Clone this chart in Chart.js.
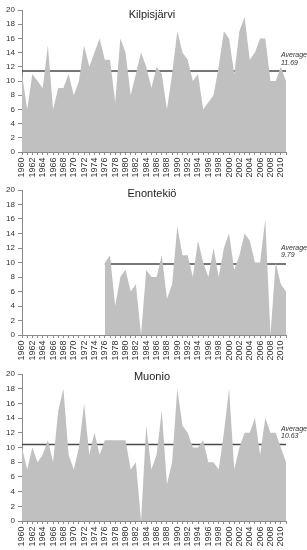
<!DOCTYPE html>
<html><head><meta charset="utf-8">
<script src="https://cdn.jsdelivr.net/npm/chart.js@4"></script>
<style>
html,body{margin:0;padding:0;background:#fff;width:307px;height:550px;overflow:hidden}
.p{position:absolute;left:0;width:307px}
canvas{display:block}
</style></head><body>
<div class="p" style="top:0"><canvas id="c1" width="307" height="182"></canvas></div>
<div class="p" style="top:182px"><canvas id="c2" width="307" height="182"></canvas></div>
<div class="p" style="top:364px"><canvas id="c3" width="307" height="186"></canvas></div>
<script>
const years = ['1960','1961','1962','1963','1964','1965','1966','1967','1968','1969',
  '1970','1971','1972','1973','1974','1975','1976','1977','1978','1979',
  '1980','1981','1982','1983','1984','1985','1986','1987','1988','1989',
  '1990','1991','1992','1993','1994','1995','1996','1997','1998','1999',
  '2000','2001','2002','2003','2004','2005','2006','2007','2008','2009',
  '2010','2011'];
const kilpisjarvi = [11,6,11,10,9,15,6,9,9,11, 8,10,15,12,14,16,13,13,7,16,
  14,8,11,14,12,9,12,11,6,11, 17,14,13,10,11,6,7,8,12,17,
  16,11,17,19,13,14,16,16,10,10, 12,10];
const enontekio = [null,null,null,null,null,null,null,null,null,null,
  null,null,null,null,null,null,10,11,4,8,
  9,6,7,0,9,8,8,11,5,7, 15,11,11,8,13,10,8,12,8,12,
  14,9,11,14,13,10,10,16,0,10, 7,6];
const muonio = [10,7,10,8,9,11,8,15,18,9, 7,10,16,9,12,9,11,11,11,11,
  11,7,8,0,13,7,9,15,5,8, 18,13,12,10,10,11,8,8,7,12,
  18,7,10,12,12,14,9,14,12,12, 10,8];
const titles = ['Kilpisjärvi','Enontekiö','Muonio'];
const averageTexts = ['11.69','9.79','10.63'];
const averageLevels = [11.4, 9.8, 10.4];
const averageFromYear = ['1960','1976','1960'];

const FONT = "'Liberation Sans', Arial, sans-serif";

function makeChart(id, values, idx, cfg){
  const startI = years.indexOf(averageFromYear[idx]);
  const avgData = years.map((y,i)=> i>=startI ? averageLevels[idx] : null);
  const labelsPlugin = {
    id:'lbl'+idx,
    afterDraw(chart){
      const {ctx, scales} = chart;
      ctx.save();
      ctx.fillStyle = '#222';
      ctx.font = "11px " + FONT;
      ctx.textAlign = 'center';
      ctx.textBaseline = 'middle';
      ctx.fillText(titles[idx], 152, cfg.titleY);
      const ly = scales.y.getPixelForValue(averageLevels[idx]);
      ctx.font = "italic 7px " + FONT;
      ctx.textAlign = 'left';
      ctx.fillStyle = '#333';
      ctx.fillText('Average', 281, ly - 16);
      ctx.fillText(averageTexts[idx], 281, ly - 8.5);
      ctx.restore();
    }
  };
  return new Chart(document.getElementById(id), {
    type:'line',
    data:{labels: years, datasets:[
      {data: values, fill:'origin', backgroundColor:'#c0c0c0', borderWidth:0, borderColor:'rgba(0,0,0,0)', pointRadius:0, tension:0},
      {data: avgData, fill:false, borderColor:'#4a4a4a', borderWidth:1.5, pointRadius:0, tension:0}
    ]},
    options:{
      responsive:false, animation:false,
      layout:{padding:{top:cfg.top, right:21, left:0, bottom:0}},
      plugins:{legend:{display:false}, tooltip:{enabled:false}},
      scales:{
        x:{
          afterFit(s){ s.height = cfg.xh; },
          grid:{drawOnChartArea:false, drawTicks:true, tickLength:3, color:'#8a8a8a'},
          border:{display:true, color:'#8a8a8a', width:1},
          ticks:{autoSkip:false, minRotation:90, maxRotation:90, padding:2.5,
            color:'#333', font:{family:FONT, size:9},
            callback(v,i){ return i%2===0 ? years[i] : ''; }}
        },
        y:{
          min:0, max:20,
          afterFit(s){ s.width = 22; },
          grid:{drawOnChartArea:false, drawTicks:true, tickLength:4, color:'#8a8a8a'},
          border:{display:true, color:'#8a8a8a', width:1},
          ticks:{stepSize:2, padding:3, color:'#333', font:{family:FONT, size:8}}
        }
      }
    },
    plugins:[labelsPlugin]
  });
}
makeChart('c1', kilpisjarvi, 0, {top:10, xh:30, titleY:15});
makeChart('c2', enontekio, 1, {top:8, xh:29, titleY:12});
makeChart('c3', muonio, 2, {top:10, xh:29, titleY:13});
</script>
</body></html>
